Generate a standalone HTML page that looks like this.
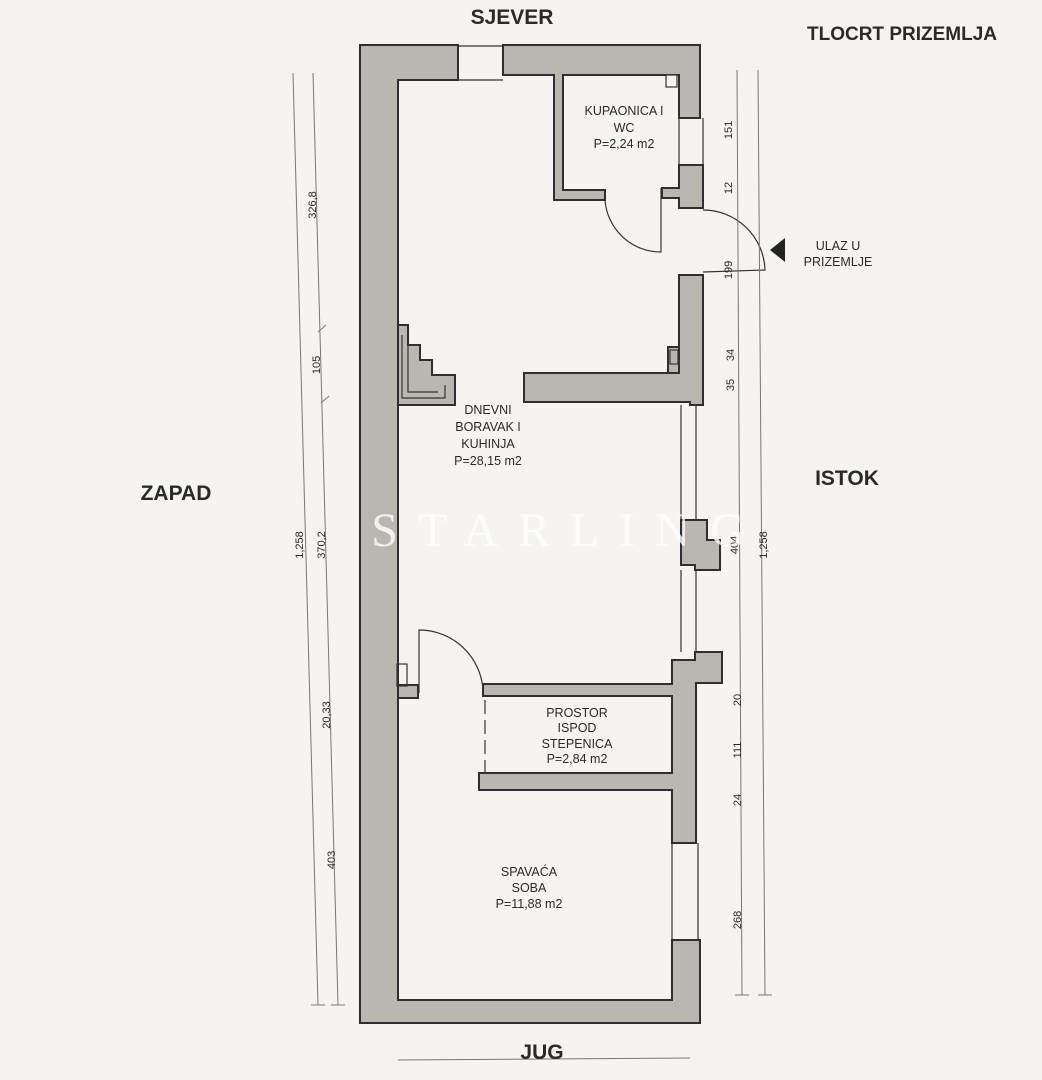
<!DOCTYPE html>
<html><head><meta charset="utf-8"><style>
html,body{margin:0;padding:0;background:#f6f4f1;}
svg{display:block}
text{font-family:"Liberation Sans",sans-serif;fill:#2a2a2a}
</style></head><body>
<svg width="1042" height="1080" viewBox="0 0 1042 1080" xmlns="http://www.w3.org/2000/svg">
<rect width="1042" height="1080" fill="#f6f4f1"/>
<g fill="#bab7b3" stroke="#2f2f2f" stroke-width="2">
<polygon points="360,45 458,45 458,80 398,80 398,1000 672,1000 672,940 700,940 700,1023 360,1023"/>
<polygon points="503,45 700,45 700,118 679,118 679,75 563,75 563,190 605,190 605,200 554,200 554,75 503,75"/>
<polygon points="679,165 703,165 703,208 679,208 679,198 662,198 662,188 679,188"/>
<polygon points="679,275 703,275 703,405 690,405 690,402 679,402 679,402 524,402 524,373 679,373"/>
<polygon points="668,347 679,347 679,373 668,373"/>
<polygon points="398,325 408,325 408,345 420,345 420,360 432,360 432,375 455,375 455,405 398,405"/>
<polygon points="681,520 707,520 707,540 720,540 720,570 695,570 695,565 681,565"/>
<polygon points="695,652 722,652 722,683 696,683 696,843 672,843 672,790 479,790 479,773 672,773 672,696 483,696 483,684 672,684 672,660 695,660"/>
<polygon points="398,685 418,685 418,698 398,698"/>
</g>
<g fill="none" stroke="#333" stroke-width="1.2">
<rect x="666" y="75" width="11" height="12" fill="#f6f4f1"/>
<rect x="670" y="350" width="8" height="14"/>
<rect x="397" y="664" width="10" height="22"/>
<path d="M402,335 L402,398 L445,398 L445,385"/>
<path d="M408,345 L408,392 L438,392"/>
<line x1="458" y1="46" x2="503" y2="46"/><line x1="458" y1="80" x2="503" y2="80"/>
<line x1="679" y1="118" x2="679" y2="165"/><line x1="703" y1="118" x2="703" y2="165"/>
<line x1="681" y1="405" x2="681" y2="520"/><line x1="696" y1="405" x2="696" y2="520"/>
<line x1="681" y1="570" x2="681" y2="652"/><line x1="696" y1="570" x2="696" y2="652"/>
<line x1="672" y1="843" x2="672" y2="940"/><line x1="698" y1="843" x2="698" y2="940"/>
<path d="M605,200 A56,56 0 0 0 661,252 L661,188"/>
<path d="M703,210 A62,62 0 0 1 765,270 L703,272"/>
<path d="M419,693 L419,630 A64,64 0 0 1 483,690"/>
<line x1="485" y1="700" x2="485" y2="772" stroke-dasharray="14,6"/>
</g>
<polygon points="785,238 785,262 770,250" fill="#222"/>
<g stroke="#777" stroke-width="1" fill="none">
<line x1="293" y1="73" x2="318" y2="1005"/>
<line x1="313" y1="73" x2="338" y2="1005"/>
<line x1="737" y1="70" x2="742" y2="995"/>
<line x1="758" y1="70" x2="765" y2="995"/>
<line x1="735" y1="995" x2="749" y2="995"/><line x1="758" y1="995" x2="772" y2="995"/>
<line x1="311" y1="1005" x2="325" y2="1005"/><line x1="331" y1="1005" x2="345" y2="1005"/>
<line x1="318" y1="332" x2="326" y2="325"/><line x1="321" y1="403" x2="329" y2="396"/>
<line x1="398" y1="1060" x2="690" y2="1058"/>
</g>
<g font-size="11">
<text transform="translate(316,205) rotate(-90)" text-anchor="middle">326,8</text>
<text transform="translate(320,365) rotate(-90)" text-anchor="middle">105</text>
<text transform="translate(325,545) rotate(-90)" text-anchor="middle">370,2</text>
<text transform="translate(303,545) rotate(-90)" text-anchor="middle">1,258</text>
<text transform="translate(330,715) rotate(-90)" text-anchor="middle">20,33</text>
<text transform="translate(335,860) rotate(-90)" text-anchor="middle">403</text>
<text transform="translate(732,130) rotate(-90)" text-anchor="middle">151</text>
<text transform="translate(732,188) rotate(-90)" text-anchor="middle">12</text>
<text transform="translate(732,270) rotate(-90)" text-anchor="middle">199</text>
<text transform="translate(734,355) rotate(-90)" text-anchor="middle">34</text>
<text transform="translate(734,385) rotate(-90)" text-anchor="middle">35</text>
<text transform="translate(738,545) rotate(-90)" text-anchor="middle">404</text>
<text transform="translate(767,545) rotate(-90)" text-anchor="middle">1,258</text>
<text transform="translate(741,700) rotate(-90)" text-anchor="middle">20</text>
<text transform="translate(741,750) rotate(-90)" text-anchor="middle">111</text>
<text transform="translate(741,800) rotate(-90)" text-anchor="middle">24</text>
<text transform="translate(741,920) rotate(-90)" text-anchor="middle">268</text>
</g>
<g font-size="12.5" text-anchor="middle">
<text x="624" y="115">KUPAONICA I</text><text x="624" y="132">WC</text><text x="624" y="148">P=2,24 m2</text>
<text x="488" y="414">DNEVNI</text><text x="488" y="431">BORAVAK I</text><text x="488" y="448">KUHINJA</text><text x="488" y="465">P=28,15 m2</text>
<text x="577" y="717">PROSTOR</text><text x="577" y="732">ISPOD</text><text x="577" y="748">STEPENICA</text><text x="577" y="763">P=2,84 m2</text>
<text x="529" y="876">SPAVAĆA</text><text x="529" y="892">SOBA</text><text x="529" y="908">P=11,88 m2</text>
<text x="838" y="250">ULAZ U</text><text x="838" y="266">PRIZEMLJE</text>
</g>
<g font-size="21" font-weight="bold" text-anchor="middle">
<text x="512" y="24">SJEVER</text>
<text x="902" y="40" font-size="19">TLOCRT PRIZEMLJA</text>
<text x="176" y="500">ZAPAD</text>
<text x="847" y="485">ISTOK</text>
<text x="542" y="1059">JUG</text>
</g>
<text x="568" y="546" font-size="48" text-anchor="middle" letter-spacing="20" style="font-family:'Liberation Serif',serif;fill:#ffffff;fill-opacity:0.8">STARLING</text>
</svg>
</body></html>
